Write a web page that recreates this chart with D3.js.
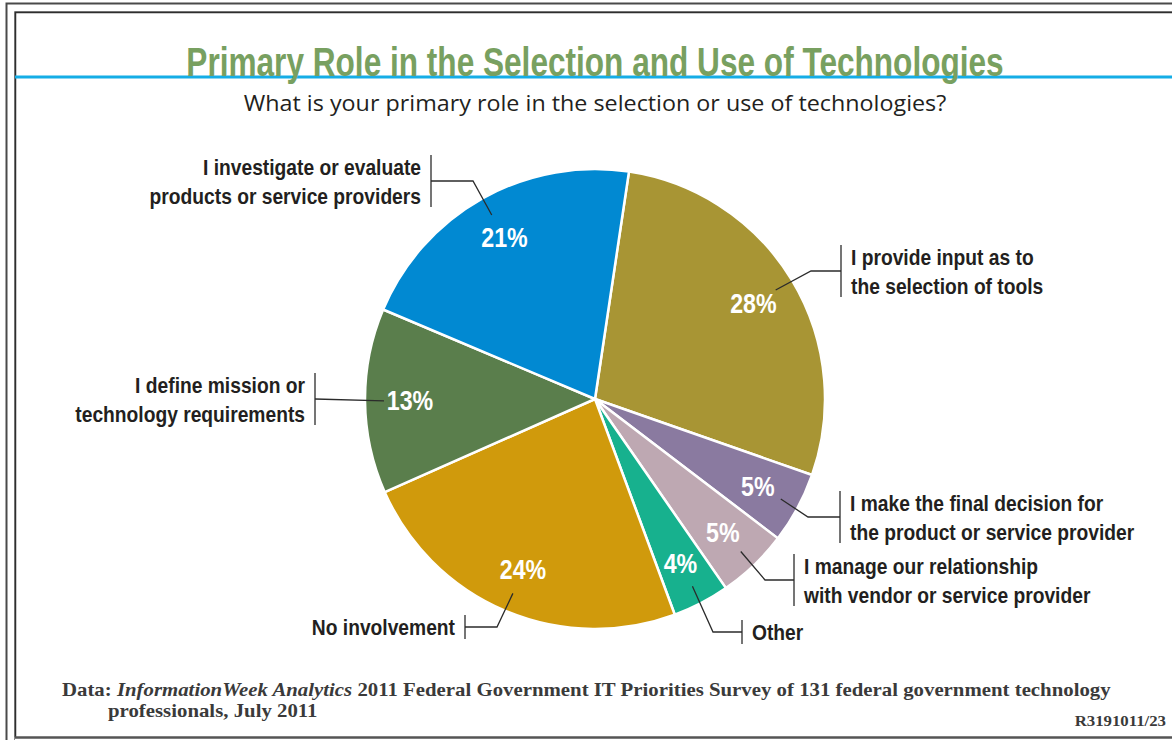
<!DOCTYPE html>
<html>
<head>
<meta charset="utf-8">
<script src="https://cdn.jsdelivr.net/npm/d3@7"></script>
<style>
  html, body { margin: 0; padding: 0; background: #fff; }
  svg { display: block; }
</style>
</head>
<body>
<svg id="chart" width="1172" height="740"></svg>
<script>
// Survey answers, clockwise from the top of the pie
const categories = [
  ["I provide input as to", "the selection of tools"],
  ["I make the final decision for", "the product or service provider"],
  ["I manage our relationship", "with vendor or service provider"],
  ["Other"],
  ["No involvement"],
  ["I define mission or", "technology requirements"],
  ["I investigate or evaluate", "products or service providers"]
];
const values = [28, 5, 5, 4, 24, 13, 21];
const colors = ["#a89534", "#8a7aa0", "#bea8b2", "#17b18e", "#d09a0c", "#5a7e4c", "#0189d2"];

// Callout placement: bracket x, bracket centre y, elbow x, side of the text
const callouts = [
  { side: "right", bx: 841, by: 271, ex: 811 },
  { side: "right", bx: 840, by: 517, ex: 808 },
  { side: "right", bx: 794, by: 580, ex: 765 },
  { side: "right", bx: 742, by: 632, ex: 713 },
  { side: "left",  bx: 465, by: 627, ex: 497 },
  { side: "left",  bx: 315, by: 399, ex: null },
  { side: "left",  bx: 431, by: 181, ex: 473 }
];

const svg = d3.select("#chart");
const W = 1172, H = 740;
const cx = 595, cy = 399, R = 230;

const sans = "'Liberation Sans', Arial, sans-serif";
const serif = "'Liberation Serif', 'DejaVu Serif', serif";

// Text drawn at (x, y) and squeezed or widened horizontally by s
function placed(parent, x, y, s) {
  return parent.append("text")
    .attr("transform", `translate(${x},${y}) scale(${s},1)`);
}

// Frame lines
const frame = svg.append("g").attr("fill", "none");
frame.append("path").attr("d", `M6.5,${H} V3.5 H${W}`).attr("stroke", "#4a4a4a").attr("stroke-width", 2);
frame.append("path").attr("d", `M14.5,${H} V11.5 H${W}`).attr("stroke", "#8a8a8a").attr("stroke-width", 1);
frame.append("path").attr("d", `M15.5,737 V12.5 H${W}`).attr("stroke", "#2e2e2e").attr("stroke-width", 1.5);
frame.append("line").attr("x1", 15).attr("x2", W).attr("y1", 737.5).attr("y2", 737.5)
  .attr("stroke", "#555").attr("stroke-width", 2.5);

// Blue rule behind the title
svg.append("line").attr("x1", 15).attr("x2", W).attr("y1", 77).attr("y2", 77)
  .attr("stroke", "#15ade6").attr("stroke-width", 3);

placed(svg, cx, 76, 0.79)
  .attr("text-anchor", "middle")
  .attr("font-family", sans)
  .attr("font-weight", "bold")
  .attr("font-size", 40)
  .attr("fill", "#78a060")
  .text("Primary Role in the Selection and Use of Technologies");

placed(svg, cx, 111, 1.06)
  .attr("text-anchor", "middle")
  .attr("font-family", "'Open Sans', sans-serif")
  .attr("font-size", 22)
  .attr("fill", "#231f20")
  .text("What is your primary role in the selection or use of technologies?");

// Pie
const pie = d3.pie().sort(null).value(d => d)
  .startAngle(8.5 * Math.PI / 180)
  .endAngle(8.5 * Math.PI / 180 + 2 * Math.PI);
const arcs = pie(values);
const arc = d3.arc().innerRadius(0).outerRadius(R);
const pctArc = d3.arc().innerRadius(185).outerRadius(185);
const leadArc = d3.arc().innerRadius(211).outerRadius(211);

const g = svg.append("g").attr("transform", `translate(${cx},${cy})`);
g.selectAll("path.slice").data(arcs).join("path")
  .attr("class", "slice")
  .attr("d", arc)
  .attr("fill", (d, i) => colors[i])
  .attr("stroke", "#fff")
  .attr("stroke-width", 2.5)
  .attr("stroke-linejoin", "round");

arcs.forEach(d => {
  const [px, py] = pctArc.centroid(d);
  placed(g, px, py, 0.86)
    .attr("text-anchor", "middle")
    .attr("dy", "0.36em")
    .attr("font-family", sans)
    .attr("font-weight", "bold")
    .attr("font-size", 27)
    .attr("fill", "#fff")
    .text(d.value + "%");
});

// Leader lines, brackets and category labels
const leaders = svg.append("g").attr("fill", "none").attr("stroke", "#2b2b2b").attr("stroke-width", 1.3);
arcs.forEach((d, i) => {
  const c = callouts[i];
  const [sx, sy] = leadArc.centroid(d);
  const pts = [[cx + sx, cy + sy]];
  if (c.ex !== null) pts.push([c.ex, c.by]);
  pts.push([c.bx, c.by]);
  leaders.append("path").attr("d", d3.line()(pts));
  const lines = categories[i];
  const half = lines.length > 1 ? 26 : 12;
  leaders.append("line").attr("x1", c.bx).attr("x2", c.bx)
    .attr("y1", c.by - half).attr("y2", c.by + half);

  const tx = c.side === "right" ? c.bx + 10 : c.bx - 10;
  const t = placed(svg, tx, c.by, 0.855)
    .attr("text-anchor", c.side === "right" ? "start" : "end")
    .attr("font-family", sans)
    .attr("font-weight", "bold")
    .attr("font-size", 22.5)
    .attr("fill", "#231f20");
  lines.forEach((ln, k) => {
    t.append("tspan").attr("x", 0)
      .attr("y", (k - (lines.length - 1) / 2) * 29)
      .attr("dy", "0.36em").text(ln);
  });
});

// Source note
const note = placed(svg, 62, 696, 1.125)
  .attr("font-family", serif)
  .attr("font-weight", "bold")
  .attr("font-size", 18.5)
  .attr("fill", "#3a3a3a");
note.append("tspan").text("Data: ");
note.append("tspan").attr("font-style", "italic").text("InformationWeek Analytics");
note.append("tspan").text(" 2011 Federal Government IT Priorities Survey of 131 federal government technology");
placed(svg, 108, 717, 1.125)
  .attr("font-family", serif).attr("font-weight", "bold").attr("font-size", 18.5)
  .attr("fill", "#3a3a3a")
  .text("professionals, July 2011");
placed(svg, 1166, 726, 1.12)
  .attr("text-anchor", "end")
  .attr("font-family", serif).attr("font-weight", "bold").attr("font-size", 15)
  .attr("fill", "#3a3a3a")
  .text("R3191011/23");
</script>
</body>
</html>
